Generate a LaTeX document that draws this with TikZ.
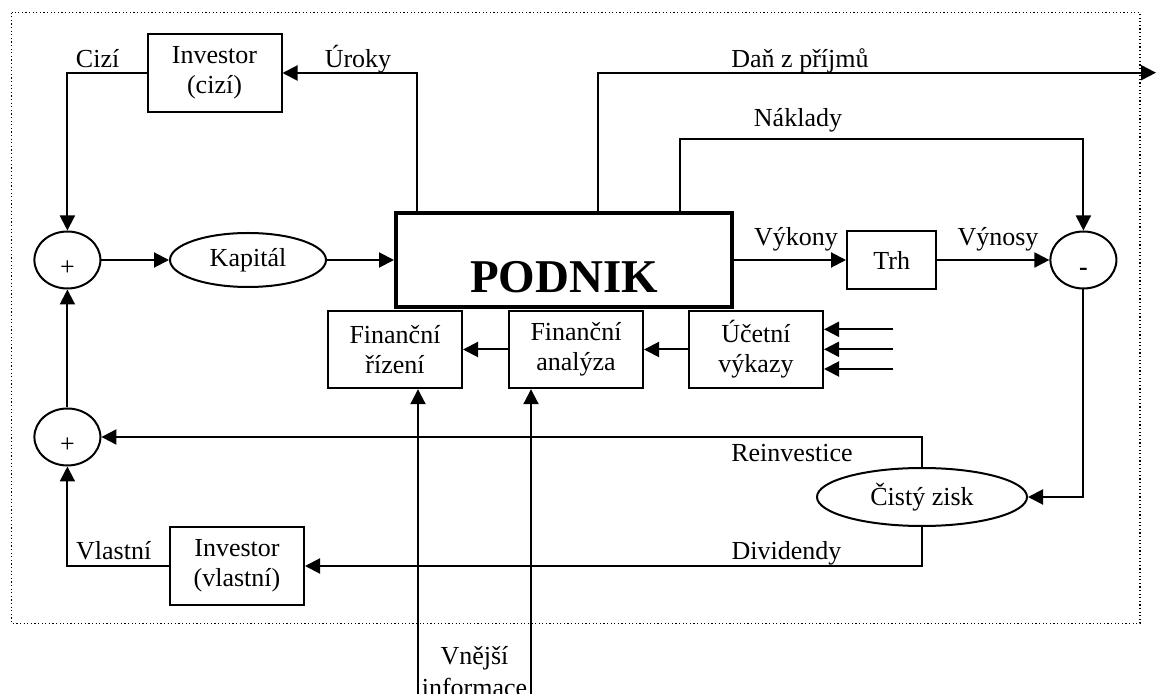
\documentclass[tikz,border=0pt]{standalone}
\usepackage{fontspec}
\setmainfont{Liberation Serif}
\usetikzlibrary{positioning,calc,shapes.geometric,arrows.meta}

\begin{document}
\begin{tikzpicture}[
  x=0.5pt, y=-0.5pt,
  font=\fontsize{13pt}{15pt}\selectfont,
  line width=1pt,
  >={Triangle[length=7.5pt,width=7.5pt]},
  every node/.style={inner sep=0pt},
  flowbox/.style={draw,rectangle,align=center,minimum width=67pt,minimum height=38.7pt},
  flowoval/.style={draw,ellipse},
  flowsum/.style={draw,ellipse,minimum width=33pt,minimum height=28.5pt,text height=15.8pt,text depth=0pt},
  flowtext/.style={anchor=base},
  ]
  \useasboundingbox (0,0) rectangle (1157,694);
  \draw[line width=0.6pt,dash pattern=on 0.6pt off 1.2pt] (11.5,12.7) rectangle (1140,623.3);

  \node[draw,line width=2pt,minimum width=168pt,minimum height=47pt,
    font=\fontsize{23.5pt}{28pt}\selectfont\bfseries,text height=33pt,text depth=0pt]
    (finPodnik) at (564,260) {PODNIK};
  \node[flowoval,minimum width=78pt,minimum height=27pt,left=33.5pt of finPodnik] (finKapital) {Kapitál};
  \node[flowsum,left=33.8pt of finKapital] (finPlusA) {+};
  \node[flowsum,below=59pt of finPlusA] (finPlusB) {+};
  \node[flowbox,minimum width=44.7pt,minimum height=29pt,right=56pt of finPodnik] (finTrh) {Trh};
  \node[flowsum,right=56pt of finTrh] (finMinus) {\textbf{-}};
  \node[flowbox] (finInvCizi) at (214.5,73) {Investor\\(cizí)};
  \node[flowbox] (finInvVlastni) at (237,566) {Investor\\(vlastní)};
  \node[flowbox] (finRizeni) at (395,349.5) {Finanční\\řízení};
  \node[flowbox,right=22.5pt of finRizeni] (finAnalyza) {Finanční\\analýza};
  \node[flowbox,right=22pt of finAnalyza] (finVykazy) {Účetní\\výkazy};
  \node[flowoval,minimum width=105pt,minimum height=29pt] (finZisk) at (922,497) {Čistý zisk};

  % free ends
  \coordinate (finDanEnd) at (1156,72.7);
  \coordinate (finExtA) at (418,700);
  \coordinate (finExtB) at (531,700);

  % connectors
  \draw[->] ([xshift=11.5pt]finPodnik.north west) |- (finInvCizi);
  \draw[->] (finInvCizi) -| (finPlusA);
  \draw[->] (finPlusA) -- (finKapital);
  \draw[->] (finKapital) -- (finPodnik);
  \draw[->] ([xshift=102pt]finPodnik.north west) |- (finDanEnd);
  \draw[->] ([xshift=143pt]finPodnik.north west) -- ++(0,-72) -| (finMinus);
  \draw[->] (finPodnik) -- (finTrh);
  \draw[->] (finTrh) -- (finMinus);
  \draw[->] (finMinus) |- (finZisk);
  \draw[->] (finZisk) |- (finPlusB);
  \draw[->] (finZisk) |- (finInvVlastni);
  \draw[->] (finInvVlastni) -| (finPlusB);
  \draw[->] (finPlusB) -- (finPlusA);
  \draw[->] (finVykazy) -- (finAnalyza);
  \draw[->] (finAnalyza) -- (finRizeni);
  \foreach \k/\yy in {A/329.3,B/349.3,C/369}{
    \coordinate (finIn\k) at (892.5,\yy);
    \draw[->] (finIn\k) -- (finIn\k -| finVykazy.east);
  }
  \draw[->] (finExtA) -- (finExtA |- finRizeni.south);
  \draw[->] (finExtB) -- (finExtB |- finAnalyza.south);

  % labels
  \node[flowtext] (lblCizi) at (97.6,67.7) {Cizí};
  \node[flowtext] (lblUroky) at (358,67.7) {Úroky};
  \node[flowtext] (lblDan) at (800,67.7) {Daň z příjmů};
  \node[flowtext] (lblNaklady) at (798,126.7) {Náklady};
  \node[flowtext] (lblVykony) at (796,245.7) {Výkony};
  \node[flowtext] (lblVynosy) at (998,245.7) {Výnosy};
  \node[flowtext] (lblReinvestice) at (792,461.7) {Reinvestice};
  \node[flowtext] (lblDividendy) at (786.6,559.3) {Dividendy};
  \node[flowtext] (lblVlastni) at (113.7,559.3) {Vlastní};
  \node[flowtext] (lblVnejsi) at (474.5,665) {Vnější};
  \node[flowtext] (lblInformace) at (474.5,697) {informace};
\end{tikzpicture}
\end{document}
